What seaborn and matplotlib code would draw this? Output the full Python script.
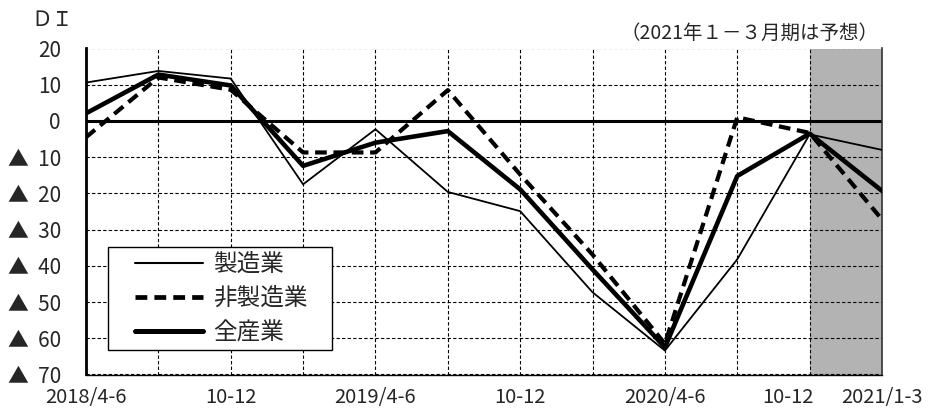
import numpy as np
import pandas as pd
import matplotlib
matplotlib.use("Agg")
import matplotlib.pyplot as plt
import matplotlib.transforms as mtransforms
from matplotlib.lines import Line2D
from matplotlib.patches import Rectangle
import seaborn as sns

quarters = ["2018/4-6", "2018/7-9", "2018/10-12", "2019/1-3", "2019/4-6", "2019/7-9",
            "2019/10-12", "2020/1-3", "2020/4-6", "2020/7-9", "2020/10-12", "2021/1-3"]
manufacturing = [10.6, 13.8, 11.7, -17.5, -2.3, -19.6, -24.9, -47.3, -63.4, -38.2, -3.7, -8.0]
non_manufacturing = [-4.5, 12.0, 8.6, -8.7, -8.7, 8.5, -14.8, -36.9, -61.5, 1.0, -3.3, -27.2]
all_industries = [2.1, 12.8, 9.8, -12.4, -6.0, -2.8, -18.9, -41.0, -62.5, -15.2, -3.5, -19.3]
series_names = ["製造業", "非製造業", "全産業"]
xtick_labels = {0: "2018/4-6", 2: "10-12", 4: "2019/4-6", 6: "10-12", 8: "2020/4-6", 10: "10-12", 11: "2021/1-3"}
yticks = [20, 10, 0, -10, -20, -30, -40, -50, -60, -70]
ytick_labels = ["20", "10", "0", "▲  10", "▲  20", "▲  30", "▲  40", "▲  50", "▲  60", "▲  70"]

sns.set_style("white")
plt.rcParams['font.family'] = ['Noto Sans CJK JP', 'DejaVu Sans']

df = pd.DataFrame({
    "idx": list(range(len(quarters))) * 3,
    "value": manufacturing + non_manufacturing + all_industries,
    "series": sum([[n] * len(quarters) for n in series_names], []),
})

W, H = 931, 416
fig = plt.figure(figsize=(W / 100, H / 100), dpi=100)
ax = fig.add_axes([86 / W, 1 - 374.5 / H, (882 - 86) / W, (374.5 - 48.5) / H])

# forecast shading
ax.axvspan(10, 11, color="#b3b3b3", zorder=0, lw=0)

styles = {
    "製造業": dict(lw=1.3, ls="-"),
    "非製造業": dict(lw=3.0, ls=(0, (2.8, 1.6))),
    "全産業": dict(lw=3.3, ls="-"),
}
for name in series_names:
    sub = df[df["series"] == name]
    sns.lineplot(data=sub, x="idx", y="value", ax=ax, color="black",
                 linewidth=styles[name]["lw"], linestyle=styles[name]["ls"],
                 legend=False, zorder=3)

ax.axhline(0, color="black", lw=2.2, zorder=2)

ax.set_xlim(0, 11)
ax.set_ylim(-70, 20)
ax.set_xticks(range(len(quarters)))
ax.set_xticklabels([xtick_labels.get(i, "") for i in range(len(quarters))], fontsize=14.5)
ax.set_yticks(yticks)
ax.set_yticklabels(ytick_labels, fontsize=15)
ax.tick_params(axis="both", length=0)
ax.tick_params(axis="x", pad=9)
ax.tick_params(axis="y", pad=18)
ax.set_xlabel("")
ax.set_ylabel("")

# shift the 2020 "10-12" label left a bit
lbl = ax.get_xticklabels()[10]
lbl.set_transform(lbl.get_transform() + mtransforms.ScaledTranslation(-0.22, 0, fig.dpi_scale_trans))

ax.grid(True, color="black", ls=(0, (3, 2)), lw=0.8, zorder=1)
for g in ax.get_xgridlines() + ax.get_ygridlines():
    g.set_zorder(1)

ax.spines["left"].set_linewidth(2.0)
ax.spines["left"].set_color("black")
ax.spines["bottom"].set_linewidth(1.0)
ax.spines["bottom"].set_color("black")
ax.spines["top"].set_visible(False)
ax.spines["right"].set_linewidth(1.2)
ax.spines["right"].set_color("#333333")

handles = [
    Line2D([], [], color="black", lw=1.5, ls="-"),
    Line2D([], [], color="black", lw=3.4, ls=(0, (2.5, 1.5))),
    Line2D([], [], color="black", lw=3.6, ls="-"),
]
# legend anchored at its content's top-left; frame drawn with asymmetric padding
pad_l, pad_r, pad_t, pad_b = 27, 25, 6, 6
leg = ax.legend(handles, series_names, loc="upper left",
                bbox_to_anchor=(135 / W, 1 - 253 / H), bbox_transform=fig.transFigure,
                frameon=False, fontsize=17, handlelength=2.9, handletextpad=0.4,
                borderpad=0, labelspacing=0.47, borderaxespad=0)
leg.set_zorder(6)

fig.canvas.draw()
bb = leg.get_window_extent()
rect = Rectangle((bb.x0 - pad_l, bb.y0 - pad_b), bb.width + pad_l + pad_r, bb.height + pad_t + pad_b,
                 transform=None, facecolor="white", edgecolor="black", lw=1.0, zorder=5)
fig.add_artist(rect)
leg.remove()
fig.add_artist(leg)

fig.text(31 / W, 1 - 20 / H, "ＤＩ", fontsize=15, ha="left", va="center")
fig.text(878 / W, 1 - 33 / H, "（2021年１－３月期は予想）", fontsize=14, ha="right", va="center")

fig.savefig("out.png", dpi=100)
